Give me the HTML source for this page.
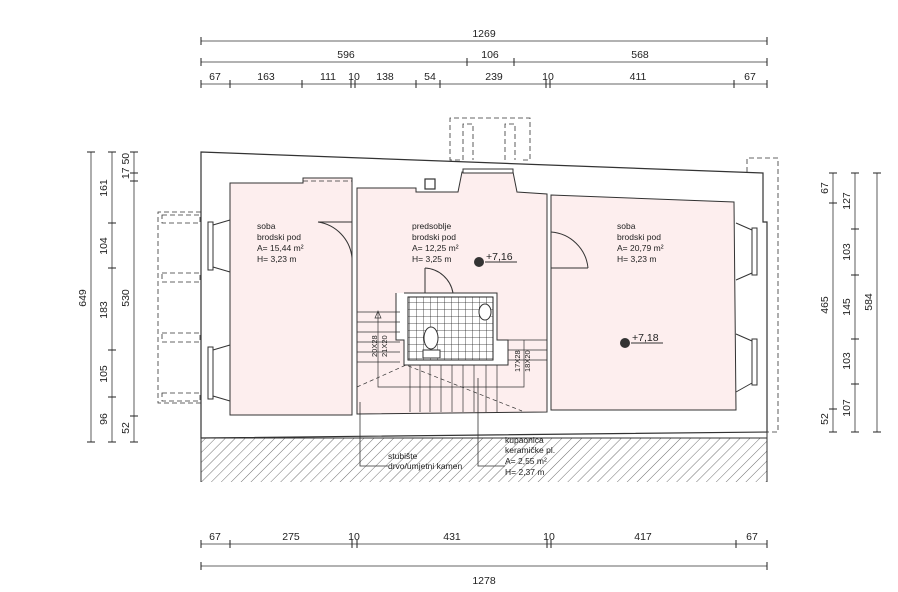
<!DOCTYPE html>
<html><head><meta charset="utf-8"><style>
html,body{margin:0;padding:0;background:#fff;}
svg{display:block;font-family:"Liberation Sans",sans-serif;}
</style></head><body>
<svg width="898" height="592" viewBox="0 0 898 592" xmlns="http://www.w3.org/2000/svg">
<defs>
<pattern id="h" width="7" height="7" patternUnits="userSpaceOnUse" patternTransform="rotate(45)">
<line x1="0" y1="0" x2="0" y2="7" stroke="#333" stroke-width="0.7"/>
</pattern>
<pattern id="g" width="7" height="7" patternUnits="userSpaceOnUse" x="409" y="295">
<path d="M0 0H7M0 0V7" stroke="#222" stroke-width="0.8" fill="none"/>
</pattern>
</defs>
<g stroke="#333" stroke-width="1" fill="none">
<!-- hatch -->
<rect x="201" y="438" width="566" height="44" fill="url(#h)" stroke="none"/>
<line x1="201" y1="438" x2="767" y2="438"/>
<line x1="201" y1="438" x2="201" y2="482"/>
<line x1="767" y1="432" x2="767" y2="482"/>
<!-- outer wall -->
<path d="M201 152 L763 173 L763 222 L767 222 L767 432 L201 438 Z" stroke-width="1.2"/>
<!-- rooms -->
<path d="M230 183 L303 183 L303 178 L352 178 L352 415 L230 415 Z" fill="#fdeeee"/>
<path d="M357 188 L416 188 L416 192 L458 192 L462 172 L513 172 L517 192 L547 194 L547 412 L357 414 Z" fill="#fdeeee"/>
<path d="M551 195 L734 202 L736 410 L551 410 Z" fill="#fdeeee"/>
<!-- windows left -->
<rect x="208" y="222" width="5" height="48" fill="#fff"/>
<rect x="208" y="347" width="5" height="52" fill="#fff"/>
<path d="M213 225 L230 220 M213 267 L230 272 M213 350 L230 345 M213 396 L230 401"/>
<!-- windows right -->
<rect x="752" y="228" width="5" height="47" fill="#fff"/>
<rect x="752" y="339" width="5" height="46" fill="#fff"/>
<path d="M752 230 L736 223 M752 273 L736 280 M752 341 L736 334 M752 383 L736 392"/>
<!-- top window -->
<rect x="463" y="169" width="50" height="4" fill="#fff"/>
<rect x="425" y="179" width="10" height="10" stroke-width="1.2"/>
<!-- dashed -->
<g stroke-dasharray="5,3" stroke-width="0.8">
<path d="M201 212 L158 212 L158 403 L201 403"/>
<rect x="162" y="215" width="38" height="8"/>
<rect x="162" y="273" width="38" height="9"/>
<rect x="162" y="333" width="38" height="9"/>
<rect x="162" y="393" width="38" height="8"/>
<path d="M460 160 L450 160 L450 118 L530 118 L530 160 L520 160"/>
<path d="M463 160 L463 124 L473 124 L473 160 M505 160 L505 124 L515 124 L515 160"/>
<path d="M747 172 L747 158 L778 158 L778 432 L767 432"/>
<path d="M303 181 L352 181"/>
</g>
<!-- doors -->
<path d="M318 222 A40 40 0 0 1 352 258"/><line x1="318" y1="222" x2="352" y2="222"/>
<path d="M551 232 A40 40 0 0 1 588 268"/><line x1="551" y1="268" x2="588" y2="268"/>
<path d="M425 268 A30 30 0 0 1 453 293"/><line x1="425" y1="268" x2="425" y2="293"/>
<!-- bathroom -->
<path d="M404 293 L497 293 L497 340 L508 340 L508 365 L404 365 L404 340 L396 340 L396 293" fill="#fff"/>
<rect x="408" y="297" width="85" height="63" fill="url(#g)" stroke="#222"/>
<ellipse cx="431" cy="338" rx="7" ry="11" fill="#fff"/>
<rect x="423" y="350" width="17" height="8" fill="#fff"/>
<ellipse cx="485" cy="312" rx="6" ry="8" fill="#fff"/>
<!-- stairs -->
<g stroke-width="0.7">
<path d="M357 312 L400 312 M357 322 L400 322 M357 332 L400 332 M357 342 L400 342 M357 352 L400 352 M357 362 L400 362"/>
<path d="M508 340 L547 340 M508 350 L547 350 M508 360 L547 360"/>
<path d="M410 365 L410 412 M420 365 L420 412 M430 365 L430 412 M441 365 L441 412 M452 365 L452 412 M463 365 L463 412 M474 365 L474 412 M486 365 L486 412 M497 365 L497 412"/>
<path d="M357 387 L406 365 L522 411" stroke-dasharray="4,3"/>
<path d="M378 312 L378 387 L524 387 L524 340"/>
<path d="M375 318 L378 311 L381 318 Z"/>
</g>
<!-- leaders -->
<path d="M360 402 L360 466 L388 466 M478 378 L478 466 L505 466" stroke-width="0.8"/>
</g>
<!-- elevation symbols -->
<g>
<circle cx="479" cy="262" r="5" fill="#333"/><line x1="485" y1="262" x2="517" y2="262" stroke="#333"/>
<circle cx="625" cy="343" r="5" fill="#333"/><line x1="631" y1="343" x2="663" y2="343" stroke="#333"/>
</g>
<g font-size="8.5" fill="#222">
<text x="257" y="229">soba</text><text x="257" y="240">brodski pod</text><text x="257" y="251">A= 15,44 m²</text><text x="257" y="262">H= 3,23 m</text>
<text x="412" y="229">predsoblje</text><text x="412" y="240">brodski pod</text><text x="412" y="251">A= 12,25 m²</text><text x="412" y="262">H= 3,25 m</text>
<text x="617" y="229">soba</text><text x="617" y="240">brodski pod</text><text x="617" y="251">A= 20,79 m²</text><text x="617" y="262">H= 3,23 m</text>
<text x="388" y="459">stubište</text><text x="388" y="469">drvo/umjetni kamen</text>
<text x="505" y="443">kupaonica</text><text x="505" y="453">keramičke pl.</text><text x="505" y="464">A= 2,55 m²</text><text x="505" y="475">H= 2,37 m</text>
</g>
<g font-size="10.5" fill="#222">
<text x="486" y="260">+7,16</text><text x="632" y="341">+7,18</text>
</g>
<g font-size="7.5" fill="#222">
<text transform="translate(377,357) rotate(-90)">20X28</text>
<text transform="translate(387,357) rotate(-90)">21X20</text>
<text transform="translate(520,372) rotate(-90)">17X28</text>
<text transform="translate(530,372) rotate(-90)">18X20</text>
</g>
<!-- dimension lines -->
<g stroke="#333" stroke-width="0.8">
<line x1="201" y1="41" x2="767" y2="41"/>
<line x1="201" y1="62" x2="767" y2="62"/>
<line x1="201" y1="84" x2="767" y2="84"/>
<line x1="201" y1="544" x2="767" y2="544"/>
<line x1="201" y1="566" x2="767" y2="566"/>
<line x1="91" y1="152" x2="91" y2="442"/>
<line x1="112" y1="152" x2="112" y2="442"/>
<line x1="134" y1="152" x2="134" y2="442"/>
<line x1="833" y1="173" x2="833" y2="432"/>
<line x1="855" y1="173" x2="855" y2="432"/>
<line x1="877" y1="173" x2="877" y2="432"/>
</g>
<g stroke="#222" stroke-width="1">
<path d="M201 37v8M767 37v8
M201 58v8M467 58v8M514 58v8M767 58v8
M201 80v8M230 80v8M302 80v8M351 80v8M355 80v8M416 80v8M440 80v8M546 80v8M550 80v8M734 80v8M767 80v8
M201 540v8M230 540v8M352 540v8M357 540v8M547 540v8M551 540v8M736 540v8M767 540v8
M201 562v8M767 562v8
M87 152h8M87 442h8
M108 152h8M108 223h8M108 268h8M108 350h8M108 397h8M108 442h8
M130 152h8M130 173h8M130 181h8M130 416h8M130 442h8
M829 173h8M829 203h8M829 409h8M829 432h8
M851 173h8M851 229h8M851 275h8M851 339h8M851 384h8M851 432h8
M873 173h8M873 432h8"/>
</g>
<g font-size="10.5" fill="#222" text-anchor="middle">
<text x="484" y="37">1269</text>
<text x="346" y="58">596</text><text x="490" y="58">106</text><text x="640" y="58">568</text>
<text x="215" y="80">67</text><text x="266" y="80">163</text><text x="328" y="80">111</text><text x="354" y="80">10</text><text x="385" y="80">138</text><text x="430" y="80">54</text><text x="494" y="80">239</text><text x="548" y="80">10</text><text x="638" y="80">411</text><text x="750" y="80">67</text>
<text x="215" y="540">67</text><text x="291" y="540">275</text><text x="354" y="540">10</text><text x="452" y="540">431</text><text x="549" y="540">10</text><text x="643" y="540">417</text><text x="752" y="540">67</text>
<text x="484" y="584">1278</text>
<text transform="translate(86,298) rotate(-90)">649</text>
<text transform="translate(107,188) rotate(-90)">161</text>
<text transform="translate(107,246) rotate(-90)">104</text>
<text transform="translate(107,310) rotate(-90)">183</text>
<text transform="translate(107,374) rotate(-90)">105</text>
<text transform="translate(107,419) rotate(-90)">96</text>
<text transform="translate(129,166) rotate(-90)">17 50</text>
<text transform="translate(129,298) rotate(-90)">530</text>
<text transform="translate(129,428) rotate(-90)">52</text>
<text transform="translate(828,188) rotate(-90)">67</text>
<text transform="translate(828,305) rotate(-90)">465</text>
<text transform="translate(828,419) rotate(-90)">52</text>
<text transform="translate(850,201) rotate(-90)">127</text>
<text transform="translate(850,252) rotate(-90)">103</text>
<text transform="translate(850,307) rotate(-90)">145</text>
<text transform="translate(850,361) rotate(-90)">103</text>
<text transform="translate(850,408) rotate(-90)">107</text>
<text transform="translate(872,302) rotate(-90)">584</text>
</g>
</svg>
</body></html>
